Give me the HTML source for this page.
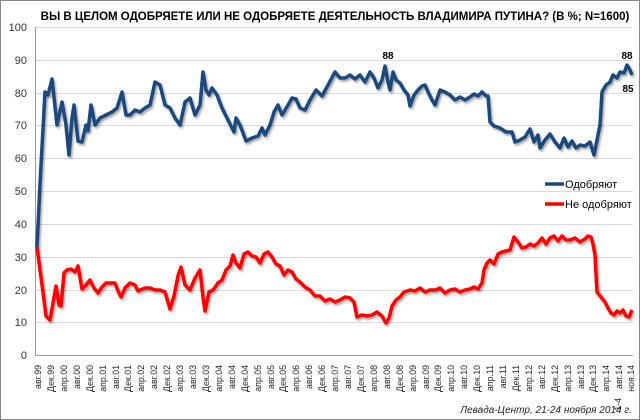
<!DOCTYPE html>
<html><head><meta charset="utf-8"><style>
body{margin:0;background:#fff;}
svg{display:block;font-family:"Liberation Sans","DejaVu Sans",sans-serif;}
</style></head><body>
<svg width="640" height="420" viewBox="0 0 640 420">
<rect x="0.5" y="0.5" width="639" height="419" fill="#fff" stroke="#888"/>
<text x="335" y="20" text-anchor="middle" font-size="11.5" font-weight="bold" fill="#000">ВЫ В ЦЕЛОМ ОДОБРЯЕТЕ ИЛИ НЕ ОДОБРЯЕТЕ ДЕЯТЕЛЬНОСТЬ ВЛАДИМИРА ПУТИНА? (В %; N=1600)</text>
<g stroke="#d9d9d9" stroke-width="1">
<line x1="36" x2="633" y1="27.5" y2="27.5"/><line x1="36" x2="633" y1="60.5" y2="60.5"/>
<line x1="36" x2="633" y1="93.5" y2="93.5"/><line x1="36" x2="633" y1="125.5" y2="125.5"/>
<line x1="36" x2="633" y1="158.5" y2="158.5"/><line x1="36" x2="633" y1="191.5" y2="191.5"/>
<line x1="36" x2="633" y1="224.5" y2="224.5"/><line x1="36" x2="633" y1="257.5" y2="257.5"/>
<line x1="36" x2="633" y1="290.5" y2="290.5"/><line x1="36" x2="633" y1="322.5" y2="322.5"/>
</g>
<line x1="36" x2="633" y1="355.5" y2="355.5" stroke="#999"/>
<line x1="35.5" x2="35.5" y1="27" y2="356" stroke="#999"/>
<g font-size="11" fill="#333" text-anchor="end">
<text x="27" y="31">100</text><text x="27" y="64">90</text><text x="27" y="97">80</text>
<text x="27" y="129">70</text><text x="27" y="162">60</text><text x="27" y="195">50</text>
<text x="27" y="228">40</text><text x="27" y="261">30</text><text x="27" y="294">20</text>
<text x="27" y="326">10</text><text x="27" y="359">0</text>
</g>
<defs><filter id="sh" x="-5%" y="-5%" width="110%" height="110%"><feDropShadow dx="1.5" dy="2" stdDeviation="1" flood-color="#000" flood-opacity="0.35"/></filter></defs>
<polyline filter="url(#sh)" fill="none" stroke="#1f497d" stroke-width="3.5" stroke-linejoin="round" points="37,247 40,184 45,92 48,95 52,79 57,125 62,102 66,125 69,155 72,118 74,105 78,141 82,142 86,125 88,131 91,105 95,125 100,118 106,115 112,112 117,108 122,92 126,115 130,115 135,110 140,112 145,108 150,105 155,82 160,85 165,105 170,108 175,118 180,125 185,102 190,98 195,115 200,105 203,72 206,90 209,95 212,88 217,95 222,108 228,120 234,132 236,118 240,125 246,141 252,138 258,136 262,128 265,135 270,125 274,112 278,105 282,115 288,105 292,98 296,99 300,108 305,110 310,100 316,90 322,96 328,85 335,72 340,78 345,78 350,75 355,79 360,75 365,82 370,72 374,78 378,88 382,80 385,66 388,82 390,90 393,72 396,80 400,83 404,90 408,95 410,106 414,95 418,90 422,86 425,85 428,92 432,100 435,105 440,90 445,92 450,95 455,100 460,97 465,100 470,97 474,94 478,96 482,92 486,96 488,96 490,122 494,126 500,128 506,132 512,132 515,142 520,140 525,137 530,129 534,142 538,135 540,148 545,140 550,134 555,142 560,148 564,138 568,147 572,141 576,148 580,145 585,146 590,142 594,155 597,140 600,125 602,92 606,85 610,82 613,75 617,78 620,72 624,73 627,65 630,70 632,75"/>
<polyline filter="url(#sh)" fill="none" stroke="#ff0000" stroke-width="3.5" stroke-linejoin="round" points="37,247 40,270 43,292 46,316 50,320 53,303 56,286 59,305 61,306 64,273 67,270 71,269 75,272 78,266 82,289 86,285 90,280 94,288 98,293 102,287 106,283 110,283 115,283 118,291 121,297 125,288 130,283 135,285 138,291 140,290 145,288 150,288 155,290 160,290 165,292 170,309 174,296 178,276 181,267 185,285 190,290 195,278 200,270 203,297 205,311 209,292 213,290 218,283 222,280 226,270 230,266 233,255 236,263 240,268 244,254 248,252 252,256 256,257 260,263 264,254 268,252 272,257 276,264 280,266 284,275 288,270 292,272 296,279 300,282 305,287 310,290 315,296 320,296 325,301 330,299 335,302 340,300 345,297 350,298 354,302 357,317 362,315 367,316 372,315 377,312 382,316 386,323 389,318 392,306 396,300 400,297 404,292 410,290 415,291 420,288 425,292 430,290 436,290 440,288 445,293 450,290 455,289 460,292 465,290 470,289 474,287 478,289 482,283 484,270 487,263 490,260 494,264 498,254 502,252 506,251 510,250 514,237 518,242 522,248 526,247 530,244 534,246 538,243 542,238 546,244 550,238 554,236 558,241 562,236 566,240 570,240 575,238 580,242 585,239 588,236 591,237 593,244 595,255 597,292 601,297 605,302 608,308 611,313 614,315 617,311 620,313 623,310 626,316 629,317 632,310"/>
<g font-size="10" font-weight="bold" fill="#000" text-anchor="middle">
<text x="388" y="59">88</text><text x="627" y="59">88</text><text x="628" y="92">85</text>
</g>
<line x1="545" x2="564" y1="184" y2="184" stroke="#1f497d" stroke-width="3.5"/>
<text x="565" y="188" font-size="11" fill="#000">Одобряют</text>
<line x1="545" x2="564" y1="204" y2="204" stroke="#ff0000" stroke-width="3.5"/>
<text x="565" y="208" font-size="11" fill="#000">Не одобряют</text>
<g font-size="8.8" fill="#222" text-anchor="end">
<text transform="translate(41,365) rotate(-90)">авг.99</text>
<text transform="translate(54,365) rotate(-90)">Дек.99</text>
<text transform="translate(67,365) rotate(-90)">апр.00</text>
<text transform="translate(80,365) rotate(-90)">авг.00</text>
<text transform="translate(93,365) rotate(-90)">Дек.00</text>
<text transform="translate(106,365) rotate(-90)">апр.01</text>
<text transform="translate(119,365) rotate(-90)">авг.01</text>
<text transform="translate(131,365) rotate(-90)">Дек.01</text>
<text transform="translate(144,365) rotate(-90)">апр.02</text>
<text transform="translate(157,365) rotate(-90)">авг.02</text>
<text transform="translate(170,365) rotate(-90)">Дек.02</text>
<text transform="translate(183,365) rotate(-90)">апр.03</text>
<text transform="translate(196,365) rotate(-90)">авг.03</text>
<text transform="translate(209,365) rotate(-90)">Дек.03</text>
<text transform="translate(222,365) rotate(-90)">апр.04</text>
<text transform="translate(235,365) rotate(-90)">авг.04</text>
<text transform="translate(248,365) rotate(-90)">Дек.04</text>
<text transform="translate(261,365) rotate(-90)">апр.05</text>
<text transform="translate(274,365) rotate(-90)">авг.05</text>
<text transform="translate(286,365) rotate(-90)">Дек.05</text>
<text transform="translate(299,365) rotate(-90)">апр.06</text>
<text transform="translate(312,365) rotate(-90)">авг.06</text>
<text transform="translate(325,365) rotate(-90)">Дек.06</text>
<text transform="translate(338,365) rotate(-90)">апр.07</text>
<text transform="translate(351,365) rotate(-90)">авг.07</text>
<text transform="translate(364,365) rotate(-90)">Дек.07</text>
<text transform="translate(377,365) rotate(-90)">апр.08</text>
<text transform="translate(390,365) rotate(-90)">авг.08</text>
<text transform="translate(403,365) rotate(-90)">Дек.08</text>
<text transform="translate(416,365) rotate(-90)">апр.09</text>
<text transform="translate(429,365) rotate(-90)">авг.09</text>
<text transform="translate(441,365) rotate(-90)">Дек.09</text>
<text transform="translate(454,365) rotate(-90)">апр.10</text>
<text transform="translate(467,365) rotate(-90)">авг.10</text>
<text transform="translate(480,365) rotate(-90)">Дек.10</text>
<text transform="translate(493,365) rotate(-90)">апр.11</text>
<text transform="translate(506,365) rotate(-90)">авг.11</text>
<text transform="translate(519,365) rotate(-90)">Дек.11</text>
<text transform="translate(532,365) rotate(-90)">апр.12</text>
<text transform="translate(545,365) rotate(-90)">авг.12</text>
<text transform="translate(558,365) rotate(-90)">Дек.12</text>
<text transform="translate(571,365) rotate(-90)">апр.13</text>
<text transform="translate(584,365) rotate(-90)">авг.13</text>
<text transform="translate(596,365) rotate(-90)">Дек.13</text>
<text transform="translate(609,365) rotate(-90)">апр.14</text>
<text transform="translate(622,365) rotate(-90)">авг.14</text>
<text transform="translate(621,398) rotate(-90)">1-4</text>
<text transform="translate(634,365) rotate(-90)">ноя.14</text>
</g>
<text x="632" y="413" text-anchor="end" font-size="10" font-style="italic" fill="#222">Левада-Центр, 21-24 ноября 2014 г.</text>
</svg>
</body></html>
